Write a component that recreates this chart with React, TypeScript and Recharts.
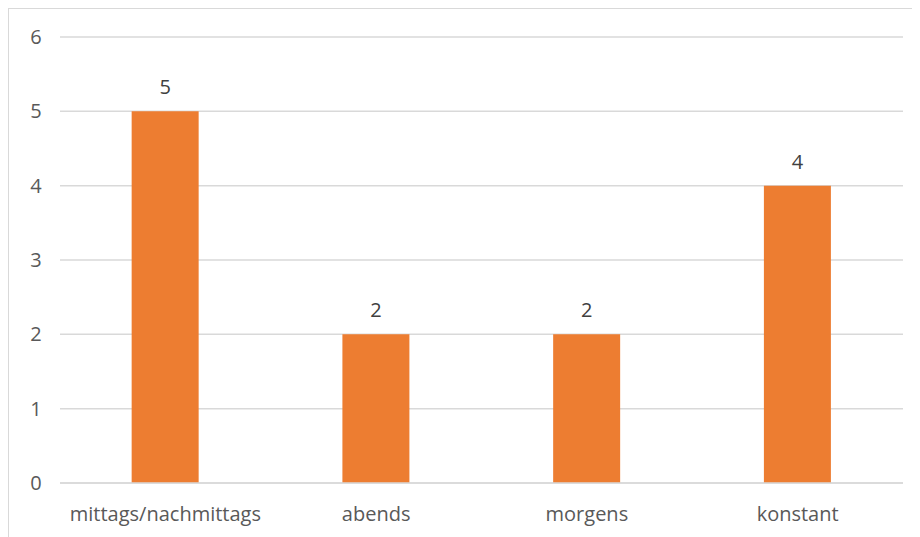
import React from "react";
import { BarChart, Bar, XAxis, YAxis, CartesianGrid, LabelList } from "recharts";

// Zeitpunkte und Anzahl der Nennungen
const categories = ["mittags/nachmittags", "abends", "morgens", "konstant"];
const counts = [5, 2, 2, 4];
const yTicks = [0, 1, 2, 3, 4, 5, 6];

const data = categories.map((name, i) => ({ name, value: counts[i] }));

const FONT = "'Open Sans', sans-serif";
const TEXT = "#595959";

const YTick = ({ y, payload }: any) => (
  <text x={27} y={y} dy={7} textAnchor="middle" fill={TEXT} fontSize={20} fontFamily={FONT}>
    {payload.value}
  </text>
);

const XTick = ({ x, y, payload }: any) => (
  <text x={x} y={y} dy={30} textAnchor="middle" fill={TEXT} fontSize={20} fontFamily={FONT}>
    {payload.value}
  </text>
);

export default function App() {
  return (
    <div
      style={{
        width: 940,
        height: 560,
        borderTop: "2px solid #D9D9D9",
        borderLeft: "2px solid #D9D9D9",
        marginLeft: -1,
        marginTop: -1,
        background: "#fff",
        overflow: "hidden",
      }}
    >
      <BarChart
        width={912}
        height={529}
        data={data}
        margin={{ top: 28, right: 18, bottom: 0, left: 0 }}
        barCategoryGap="34%"
      >
        <CartesianGrid vertical={false} stroke="#D9D9D9" strokeWidth={1.5} />
        <XAxis
          dataKey="name"
          axisLine={{ stroke: "#D9D9D9", strokeWidth: 1.5 }}
          tickLine={false}
          tick={<XTick />}
          height={55}
          interval={0}
        />
        <YAxis
          domain={[0, 6]}
          ticks={yTicks}
          axisLine={false}
          tickLine={false}
          tick={<YTick />}
          width={51}
        />
        <Bar dataKey="value" fill="#ED7D31" isAnimationActive={false}>
          <LabelList
            dataKey="value"
            position="top"
            offset={17}
            fill="#404040"
            fontSize={20}
            fontFamily={FONT}
          />
        </Bar>
      </BarChart>
    </div>
  );
}
